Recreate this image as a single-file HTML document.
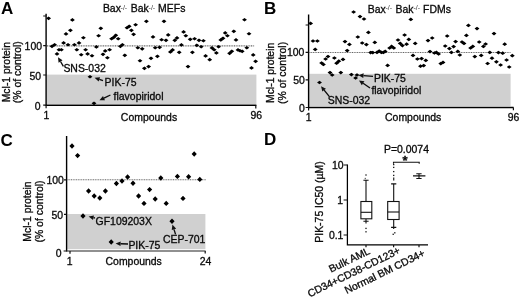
<!DOCTYPE html>
<html><head><meta charset="utf-8"><title>Figure</title>
<style>
html,body{margin:0;padding:0;background:#fff;}
body{width:520px;height:298px;overflow:hidden;}
svg{display:block;}
text{font-family:"Liberation Sans",Arial,Helvetica,sans-serif;font-size:10.45px;fill:#0a0a0a;stroke:#0a0a0a;stroke-width:0.32px;}
.pl{font-size:17px;stroke:none;font-weight:bold;fill:#000;}
.sup{font-size:7px;fill:#333;stroke:none;}
.ax{stroke:#000;stroke-width:1.4;fill:none;}
.tk{stroke:#111;stroke-width:1.2;fill:none;}
.dot{stroke:#666;stroke-width:1.05;stroke-dasharray:1 0.7;fill:none;}
.bx{stroke:#111;stroke-width:1.1;fill:#fff;}
.ln{stroke:#111;stroke-width:1.1;fill:none;}
</style></head><body>
<svg width="520" height="298" viewBox="0 0 520 298">
<rect x="0" y="0" width="520" height="298" fill="#fff"/>

<g id="panelA">
<text class="pl" x="1" y="13.5">A</text>
<text x="102.9" y="12.3">Bax</text><text class="sup" x="120.6" y="9.5">-/-</text><text x="130.7" y="12.3">Bak</text><text class="sup" x="148.6" y="9.5">-/-</text><text x="158.1" y="12.3">MEFs</text>
<rect x="46.6" y="74.6" width="209.8" height="29.4" fill="#d0d0d0"/>
<line class="dot" x1="47" y1="45.85" x2="254.5" y2="45.85"/>
<path class="ax" d="M46.1 13.8V105.2H256.4"/>
<path class="tk" d="M43.2 16H46.1M43.2 45.7H46.1M43.2 75H46.1M43.2 105.2H46.1M255.8 105.2V108.4M46.1 105.2V108.2"/>
<text x="42" y="49.5" text-anchor="end">100</text><text x="41.2" y="80" text-anchor="end">50</text><text x="40.5" y="110" text-anchor="end">0</text>
<text x="46.5" y="119.1" text-anchor="middle">1</text><text x="149" y="120.5" text-anchor="middle">Compounds</text><text x="256.2" y="119.2" text-anchor="middle">96</text>
<text transform="translate(10.4,72.2) rotate(-90)" text-anchor="middle">Mcl-1 protein</text>
<text transform="translate(21.2,72.2) rotate(-90)" text-anchor="middle">(% of control)</text>
<path fill="#000" d="M46.15 18.35L48.60 16.50L51.05 18.35L48.60 20.20ZM49.55 46.35L52.00 44.50L54.45 46.35L52.00 48.20ZM52.15 44.75L54.60 42.90L57.05 44.75L54.60 46.60ZM54.55 53.95L57.00 52.10L59.45 53.95L57.00 55.80ZM56.55 49.75L59.00 47.90L61.45 49.75L59.00 51.60ZM58.95 49.75L61.40 47.90L63.85 49.75L61.40 51.60ZM61.15 42.95L63.60 41.10L66.05 42.95L63.60 44.80ZM63.55 33.95L66.00 32.10L68.45 33.95L66.00 35.80ZM65.55 44.75L68.00 42.90L70.45 44.75L68.00 46.60ZM67.95 30.35L70.40 28.50L72.85 30.35L70.40 32.20ZM69.95 19.95L72.40 18.10L74.85 19.95L72.40 21.80ZM71.95 44.75L74.40 42.90L76.85 44.75L74.40 46.60ZM74.35 49.75L76.80 47.90L79.25 49.75L76.80 51.60ZM76.55 42.95L79.00 41.10L81.45 42.95L79.00 44.80ZM78.75 54.75L81.20 52.90L83.65 54.75L81.20 56.60ZM80.95 37.75L83.40 35.90L85.85 37.75L83.40 39.60ZM83.15 49.75L85.60 47.90L88.05 49.75L85.60 51.60ZM85.15 53.95L87.60 52.10L90.05 53.95L87.60 55.80ZM87.55 76.75L90.00 74.90L92.45 76.75L90.00 78.60ZM89.55 55.75L92.00 53.90L94.45 55.75L92.00 57.60ZM91.55 103.35L94.00 101.50L96.45 103.35L94.00 105.20ZM93.95 46.95L96.40 45.10L98.85 46.95L96.40 48.80ZM96.15 35.75L98.60 33.90L101.05 35.75L98.60 37.60ZM98.35 28.35L100.80 26.50L103.25 28.35L100.80 30.20ZM100.55 54.35L103.00 52.50L105.45 54.35L103.00 56.20ZM102.75 50.95L105.20 49.10L107.65 50.95L105.20 52.80ZM104.95 57.75L107.40 55.90L109.85 57.75L107.40 59.60ZM107.15 49.75L109.60 47.90L112.05 49.75L109.60 51.60ZM109.15 38.75L111.60 36.90L114.05 38.75L111.60 40.60ZM111.35 37.35L113.80 35.50L116.25 37.35L113.80 39.20ZM113.35 35.35L115.80 33.50L118.25 35.35L115.80 37.20ZM115.75 38.75L118.20 36.90L120.65 38.75L118.20 40.60ZM117.95 46.35L120.40 44.50L122.85 46.35L120.40 48.20ZM119.95 44.75L122.40 42.90L124.85 44.75L122.40 46.60ZM122.35 55.35L124.80 53.50L127.25 55.35L124.80 57.20ZM124.55 27.75L127.00 25.90L129.45 27.75L127.00 29.60ZM126.75 26.35L129.20 24.50L131.65 26.35L129.20 28.20ZM128.95 30.35L131.40 28.50L133.85 30.35L131.40 32.20ZM131.15 34.35L133.60 32.50L136.05 34.35L133.60 36.20ZM133.15 24.75L135.60 22.90L138.05 24.75L135.60 26.60ZM135.35 47.75L137.80 45.90L140.25 47.75L137.80 49.60ZM137.55 60.75L140.00 58.90L142.45 60.75L140.00 62.60ZM139.75 48.85L142.20 47.00L144.65 48.85L142.20 50.70ZM141.95 68.35L144.40 66.50L146.85 68.35L144.40 70.20ZM143.95 21.35L146.40 19.50L148.85 21.35L146.40 23.20ZM146.15 66.55L148.60 64.70L151.05 66.55L148.60 68.40ZM148.55 58.35L151.00 56.50L153.45 58.35L151.00 60.20ZM150.55 36.95L153.00 35.10L155.45 36.95L153.00 38.80ZM152.75 47.75L155.20 45.90L157.65 47.75L155.20 49.60ZM154.95 56.35L157.40 54.50L159.85 56.35L157.40 58.20ZM157.15 47.35L159.60 45.50L162.05 47.35L159.60 49.20ZM159.15 39.75L161.60 37.90L164.05 39.75L161.60 41.60ZM161.55 21.35L164.00 19.50L166.45 21.35L164.00 23.20ZM163.55 40.35L166.00 38.50L168.45 40.35L166.00 42.20ZM165.75 34.95L168.20 33.10L170.65 34.95L168.20 36.80ZM167.95 51.95L170.40 50.10L172.85 51.95L170.40 53.80ZM170.15 49.95L172.60 48.10L175.05 49.95L172.60 51.80ZM172.35 40.35L174.80 38.50L177.25 40.35L174.80 42.20ZM174.55 37.95L177.00 36.10L179.45 37.95L177.00 39.80ZM176.75 52.35L179.20 50.50L181.65 52.35L179.20 54.20ZM178.95 44.95L181.40 43.10L183.85 44.95L181.40 46.80ZM181.15 31.95L183.60 30.10L186.05 31.95L183.60 33.80ZM183.35 35.75L185.80 33.90L188.25 35.75L185.80 37.60ZM185.55 66.55L188.00 64.70L190.45 66.55L188.00 68.40ZM187.75 39.35L190.20 37.50L192.65 39.35L190.20 41.20ZM189.95 52.35L192.40 50.50L194.85 52.35L192.40 54.20ZM192.15 38.75L194.60 36.90L197.05 38.75L194.60 40.60ZM194.35 45.35L196.80 43.50L199.25 45.35L196.80 47.20ZM196.55 40.35L199.00 38.50L201.45 40.35L199.00 42.20ZM198.75 46.75L201.20 44.90L203.65 46.75L201.20 48.60ZM200.95 40.75L203.40 38.90L205.85 40.75L203.40 42.60ZM203.15 55.95L205.60 54.10L208.05 55.95L205.60 57.80ZM207.25 59.65L209.70 57.80L212.15 59.65L209.70 61.50ZM209.55 47.95L212.00 46.10L214.45 47.95L212.00 49.80ZM211.75 49.75L214.20 47.90L216.65 49.75L214.20 51.60ZM213.95 52.95L216.40 51.10L218.85 52.95L216.40 54.80ZM216.15 46.75L218.60 44.90L221.05 46.75L218.60 48.60ZM218.35 39.95L220.80 38.10L223.25 39.95L220.80 41.80ZM220.55 38.35L223.00 36.50L225.45 38.35L223.00 40.20ZM222.75 32.95L225.20 31.10L227.65 32.95L225.20 34.80ZM224.95 35.75L227.40 33.90L229.85 35.75L227.40 37.60ZM227.15 53.35L229.60 51.50L232.05 53.35L229.60 55.20ZM229.35 51.35L231.80 49.50L234.25 51.35L231.80 53.20ZM231.35 31.35L233.80 29.50L236.25 31.35L233.80 33.20ZM233.55 39.95L236.00 38.10L238.45 39.95L236.00 41.80ZM235.55 49.95L238.00 48.10L240.45 49.95L238.00 51.80ZM237.55 50.75L240.00 48.90L242.45 50.75L240.00 52.60ZM239.75 51.35L242.20 49.50L244.65 51.35L242.20 53.20ZM242.05 19.75L244.50 17.90L246.95 19.75L244.50 21.60ZM244.35 47.75L246.80 45.90L249.25 47.75L246.80 49.60ZM246.55 33.75L249.00 31.90L251.45 33.75L249.00 35.60ZM249.05 67.95L251.50 66.10L253.95 67.95L251.50 69.80ZM250.75 54.95L253.20 53.10L255.65 54.95L253.20 56.80ZM253.15 61.35L255.60 59.50L258.05 61.35L255.60 63.20Z"/>
<text x="63.4" y="72.2">SNS-032</text><text x="104.6" y="86.1">PIK-75</text><text x="113.6" y="100">flavopiridol</text>
<line x1="63.40" y1="66.40" x2="60.53" y2="61.51" stroke="#0a0a0a" stroke-width="1.35"/><path d="M58.00 57.20L62.51 60.35L58.55 62.68Z" fill="#111"/><line x1="103.00" y1="80.60" x2="99.34" y2="79.38" stroke="#0a0a0a" stroke-width="1.35"/><path d="M94.60 77.80L100.07 77.20L98.62 81.56Z" fill="#111"/><line x1="110.40" y1="95.00" x2="104.00" y2="98.11" stroke="#0a0a0a" stroke-width="1.35"/><path d="M99.50 100.30L102.99 96.05L105.00 100.18Z" fill="#111"/>
</g>
<g id="panelB">
<text class="pl" x="264.1" y="13.6">B</text>
<text x="367.8" y="12.5">Bax</text><text class="sup" x="385.5" y="9.7">-/-</text><text x="395.5" y="12.5">Bak</text><text class="sup" x="413.4" y="9.7">-/-</text><text x="423.1" y="12.5">FDMs</text>
<rect x="309" y="73.8" width="201.6" height="32.4" fill="#d0d0d0"/>
<line class="dot" x1="309.5" y1="52.4" x2="510.6" y2="52.4"/>
<path class="ax" d="M308.6 14.4V107.5H513.6"/>
<path class="tk" d="M305.6 25H308.6M305.6 52.4H308.6M305.6 79.8H308.6M305.6 107.5H308.6M513.4 107.5V110.2M308.6 107.5V110.6"/>
<text x="304.4" y="56.2" text-anchor="end">100</text><text x="304.9" y="84.4" text-anchor="end">50</text><text x="304.8" y="111.9" text-anchor="end">0</text>
<text x="308.7" y="121.1" text-anchor="middle">1</text><text x="413.2" y="120.9" text-anchor="middle">Compounds</text><text x="513.5" y="120.9" text-anchor="middle">96</text>
<text transform="translate(274,72.9) rotate(-90)" text-anchor="middle">Mcl-1 protein</text>
<text transform="translate(286.1,72.9) rotate(-90)" text-anchor="middle">(% of control)</text>
<path fill="#000" d="M308.15 23.40L310.60 21.55L313.05 23.40L310.60 25.25ZM310.55 41.00L313.00 39.15L315.45 41.00L313.00 42.85ZM312.75 49.40L315.20 47.55L317.65 49.40L315.20 51.25ZM314.95 41.00L317.40 39.15L319.85 41.00L317.40 42.85ZM317.05 82.50L319.50 80.65L321.95 82.50L319.50 84.35ZM319.15 63.00L321.60 61.15L324.05 63.00L321.60 64.85ZM320.95 64.40L323.40 62.55L325.85 64.40L323.40 66.25ZM323.15 59.00L325.60 57.15L328.05 59.00L325.60 60.85ZM325.55 56.50L328.00 54.65L330.45 56.50L328.00 58.35ZM327.55 72.60L330.00 70.75L332.45 72.60L330.00 74.45ZM329.75 75.00L332.20 73.15L334.65 75.00L332.20 76.85ZM331.95 58.00L334.40 56.15L336.85 58.00L334.40 59.85ZM334.15 63.20L336.60 61.35L339.05 63.20L336.60 65.05ZM336.35 61.20L338.80 59.35L341.25 61.20L338.80 63.05ZM338.35 72.60L340.80 70.75L343.25 72.60L340.80 74.45ZM340.55 59.40L343.00 57.55L345.45 59.40L343.00 61.25ZM342.55 41.60L345.00 39.75L347.45 41.60L345.00 43.45ZM344.75 50.60L347.20 48.75L349.65 50.60L347.20 52.45ZM346.95 44.40L349.40 42.55L351.85 44.40L349.40 46.25ZM348.95 74.60L351.40 72.75L353.85 74.60L351.40 76.45ZM351.15 12.00L353.60 10.15L356.05 12.00L353.60 13.85ZM353.15 78.00L355.60 76.15L358.05 78.00L355.60 79.85ZM354.55 75.00L357.00 73.15L359.45 75.00L357.00 76.85ZM355.35 37.00L357.80 35.15L360.25 37.00L357.80 38.85ZM357.55 16.60L360.00 14.75L362.45 16.60L360.00 18.45ZM359.75 43.00L362.20 41.15L364.65 43.00L362.20 44.85ZM361.55 19.00L364.00 17.15L366.45 19.00L364.00 20.85ZM363.95 44.60L366.40 42.75L368.85 44.60L366.40 46.45ZM365.95 32.40L368.40 30.55L370.85 32.40L368.40 34.25ZM368.15 52.60L370.60 50.75L373.05 52.60L370.60 54.45ZM370.35 52.60L372.80 50.75L375.25 52.60L372.80 54.45ZM372.35 42.40L374.80 40.55L377.25 42.40L374.80 44.25ZM374.55 52.40L377.00 50.55L379.45 52.40L377.00 54.25ZM376.75 51.00L379.20 49.15L381.65 51.00L379.20 52.85ZM378.95 52.40L381.40 50.55L383.85 52.40L381.40 54.25ZM380.95 52.40L383.40 50.55L385.85 52.40L383.40 54.25ZM382.75 51.40L385.20 49.55L387.65 51.40L385.20 53.25ZM385.15 65.40L387.60 63.55L390.05 65.40L387.60 67.25ZM387.15 48.00L389.60 46.15L392.05 48.00L389.60 49.85ZM389.15 46.40L391.60 44.55L394.05 46.40L391.60 48.25ZM391.35 48.00L393.80 46.15L396.25 48.00L393.80 49.85ZM395.55 40.00L398.00 38.15L400.45 40.00L398.00 41.85ZM397.75 43.40L400.20 41.55L402.65 43.40L400.20 45.25ZM399.95 45.60L402.40 43.75L404.85 45.60L402.40 47.45ZM402.15 35.00L404.60 33.15L407.05 35.00L404.60 36.85ZM404.15 44.20L406.60 42.35L409.05 44.20L406.60 46.05ZM406.35 39.40L408.80 37.55L411.25 39.40L408.80 41.25ZM408.35 19.40L410.80 17.55L413.25 19.40L410.80 21.25ZM410.55 55.40L413.00 53.55L415.45 55.40L413.00 57.25ZM412.75 43.40L415.20 41.55L417.65 43.40L415.20 45.25ZM414.95 59.00L417.40 57.15L419.85 59.00L417.40 60.85ZM418.05 66.20L420.50 64.35L422.95 66.20L420.50 68.05ZM419.15 58.60L421.60 56.75L424.05 58.60L421.60 60.45ZM421.25 65.60L423.70 63.75L426.15 65.60L423.70 67.45ZM423.35 60.40L425.80 58.55L428.25 60.40L425.80 62.25ZM425.55 40.60L428.00 38.75L430.45 40.60L428.00 42.45ZM427.55 51.60L430.00 49.75L432.45 51.60L430.00 53.45ZM429.75 38.00L432.20 36.15L434.65 38.00L432.20 39.85ZM431.95 53.00L434.40 51.15L436.85 53.00L434.40 54.85ZM433.95 52.40L436.40 50.55L438.85 52.40L436.40 54.25ZM436.15 54.00L438.60 52.15L441.05 54.00L438.60 55.85ZM438.35 63.60L440.80 61.75L443.25 63.60L440.80 65.45ZM440.55 62.40L443.00 60.55L445.45 62.40L443.00 64.25ZM442.75 46.00L445.20 44.15L447.65 46.00L445.20 47.85ZM444.75 36.00L447.20 34.15L449.65 36.00L447.20 37.85ZM446.95 48.60L449.40 46.75L451.85 48.60L449.40 50.45ZM448.95 52.40L451.40 50.55L453.85 52.40L451.40 54.25ZM451.15 46.60L453.60 44.75L456.05 46.60L453.60 48.45ZM453.15 41.60L455.60 39.75L458.05 41.60L455.60 43.45ZM455.35 51.40L457.80 49.55L460.25 51.40L457.80 53.25ZM457.35 55.00L459.80 53.15L462.25 55.00L459.80 56.85ZM459.55 42.00L462.00 40.15L464.45 42.00L462.00 43.85ZM461.55 43.40L464.00 41.55L466.45 43.40L464.00 45.25ZM463.95 35.40L466.40 33.55L468.85 35.40L466.40 37.25ZM465.95 25.40L468.40 23.55L470.85 25.40L468.40 27.25ZM468.15 48.00L470.60 46.15L473.05 48.00L470.60 49.85ZM470.35 46.40L472.80 44.55L475.25 46.40L472.80 48.25ZM472.35 56.60L474.80 54.75L477.25 56.60L474.80 58.45ZM474.55 28.60L477.00 26.75L479.45 28.60L477.00 30.45ZM476.75 42.00L479.20 40.15L481.65 42.00L479.20 43.85ZM478.75 55.40L481.20 53.55L483.65 55.40L481.20 57.25ZM480.95 46.40L483.40 44.55L485.85 46.40L483.40 48.25ZM483.15 44.00L485.60 42.15L488.05 44.00L485.60 45.85ZM485.15 63.50L487.60 61.65L490.05 63.50L487.60 65.35ZM487.35 52.40L489.80 50.55L492.25 52.40L489.80 54.25ZM489.55 58.20L492.00 56.35L494.45 58.20L492.00 60.05ZM491.55 33.60L494.00 31.75L496.45 33.60L494.00 35.45ZM493.95 61.80L496.40 59.95L498.85 61.80L496.40 63.65ZM495.95 52.60L498.40 50.75L500.85 52.60L498.40 54.45ZM498.15 65.00L500.60 63.15L503.05 65.00L500.60 66.85ZM500.25 53.20L502.70 51.35L505.15 53.20L502.70 55.05ZM502.25 44.20L504.70 42.35L507.15 44.20L504.70 46.05ZM504.15 60.00L506.60 58.15L509.05 60.00L506.60 61.85ZM506.75 67.00L509.20 65.15L511.65 67.00L509.20 68.85ZM509.85 55.70L512.30 53.85L514.75 55.70L512.30 57.55Z"/>
<text x="374" y="82.4">PIK-75</text><text x="371.4" y="93.9">flavopiridol</text><text x="327.8" y="104.2">SNS-032</text>
<line x1="373.00" y1="76.40" x2="363.48" y2="75.61" stroke="#0a0a0a" stroke-width="1.35"/><path d="M358.50 75.20L363.67 73.32L363.29 77.90Z" fill="#111"/><line x1="370.00" y1="88.00" x2="363.11" y2="83.24" stroke="#0a0a0a" stroke-width="1.35"/><path d="M359.00 80.40L364.42 81.35L361.81 85.13Z" fill="#111"/><line x1="329.40" y1="96.60" x2="324.14" y2="90.09" stroke="#0a0a0a" stroke-width="1.35"/><path d="M321.00 86.20L325.93 88.64L322.35 91.53Z" fill="#111"/>
</g>
<g id="panelC">
<text class="pl" x="0.5" y="145.9">C</text>
<rect x="67.2" y="214" width="138.2" height="35.2" fill="#d0d0d0"/>
<line class="dot" x1="67.6" y1="179.8" x2="206" y2="179.8"/>
<path class="ax" d="M66.6 136V251.4"/><path d="M66 251H205.6" stroke="#222" stroke-width="1.15" fill="none"/>
<path class="tk" d="M64 179.8H66.6M64 214.4H66.6M63.6 251H66.6M205.2 251V253.6M70 251V253.8"/>
<text x="63.8" y="183.5" text-anchor="end">100</text><text x="63.1" y="218.9" text-anchor="end">50</text><text x="61.6" y="257" text-anchor="end">0</text>
<text x="69.6" y="264.7" text-anchor="middle">1</text><text x="133.7" y="264.8" text-anchor="middle">Compounds</text><text x="205.6" y="264.6" text-anchor="middle">24</text>
<text transform="translate(31,211.5) rotate(-90)" text-anchor="middle">Mcl-1 protein</text>
<text transform="translate(42.5,211.5) rotate(-90)" text-anchor="middle">(% of control)</text>
<path fill="#000" d="M69.40 146.00L72.00 143.30L74.60 146.00L72.00 148.70ZM75.00 155.60L77.60 152.90L80.20 155.60L77.60 158.30ZM80.40 216.00L83.00 213.30L85.60 216.00L83.00 218.70ZM86.00 191.00L88.60 188.30L91.20 191.00L88.60 193.70ZM91.60 196.00L94.20 193.30L96.80 196.00L94.20 198.70ZM97.20 198.00L99.80 195.30L102.40 198.00L99.80 200.70ZM102.80 191.00L105.40 188.30L108.00 191.00L105.40 193.70ZM108.60 242.00L111.20 239.30L113.80 242.00L111.20 244.70ZM113.80 183.50L116.40 180.80L119.00 183.50L116.40 186.20ZM119.40 181.00L122.00 178.30L124.60 181.00L122.00 183.70ZM125.00 177.00L127.60 174.30L130.20 177.00L127.60 179.70ZM130.40 183.20L133.00 180.50L135.60 183.20L133.00 185.90ZM136.00 196.00L138.60 193.30L141.20 196.00L138.60 198.70ZM141.40 203.40L144.00 200.70L146.60 203.40L144.00 206.10ZM147.00 189.60L149.60 186.90L152.20 189.60L149.60 192.30ZM152.60 199.00L155.20 196.30L157.80 199.00L155.20 201.70ZM158.20 178.00L160.80 175.30L163.40 178.00L160.80 180.70ZM163.60 203.40L166.20 200.70L168.80 203.40L166.20 206.10ZM169.40 221.20L172.00 218.50L174.60 221.20L172.00 223.90ZM174.80 176.40L177.40 173.70L180.00 176.40L177.40 179.10ZM180.40 198.40L183.00 195.70L185.60 198.40L183.00 201.10ZM186.00 176.80L188.60 174.10L191.20 176.80L188.60 179.50ZM191.60 154.00L194.20 151.30L196.80 154.00L194.20 156.70ZM197.20 179.40L199.80 176.70L202.40 179.40L199.80 182.10Z"/>
<text x="95.6" y="224.9">GF109203X</text><text x="128.4" y="248.6">PIK-75</text><text x="163" y="243.4">CEP-701</text>
<line x1="95.00" y1="218.00" x2="93.48" y2="217.67" stroke="#0a0a0a" stroke-width="1.35"/><path d="M88.60 216.60L93.98 215.42L92.99 219.92Z" fill="#111"/><line x1="128.00" y1="244.00" x2="120.60" y2="243.76" stroke="#0a0a0a" stroke-width="1.35"/><path d="M115.60 243.60L120.67 241.46L120.52 246.06Z" fill="#111"/><line x1="175.60" y1="234.40" x2="173.95" y2="229.35" stroke="#0a0a0a" stroke-width="1.35"/><path d="M172.40 224.60L176.14 228.64L171.77 230.07Z" fill="#111"/>
</g>
<g id="panelD">
<text class="pl" x="263.9" y="145.4">D</text>
<text x="384" y="152.7">P=0.0074</text><text x="405" y="164.6" text-anchor="middle" style="font-size:13px;font-weight:bold">*</text>
<path class="ln" d="M393.5 163.7V162.3H419.2V163.7"/>
<path class="ax" style="stroke-width:1.25" d="M347.4 164.6V244.9H428"/>
<path class="tk" d="M343.6 165H347.4M343.6 200H347.4M343.6 235H347.4M366 244.9V247.2M393.6 244.9V247.2M419 244.9V247.2"/>
<text x="343.6" y="168.6" text-anchor="end">10</text><text x="343" y="203.8" text-anchor="end">1</text><text x="343.4" y="238.8" text-anchor="end">0.1</text>
<text transform="translate(323.2,202) rotate(-90)" text-anchor="middle">PIK-75 IC50 (µM)</text>
<path class="ln" d="M366 180.2V201.5M366 218.8V223.4M363.4 180.2H368.6M363.4 221.2H368.6"/>
<rect class="bx" x="360.9" y="201.5" width="10.9" height="17.3"/><path class="ln" d="M360.9 212.3H371.8"/>
<rect x="365.35" y="174.35" width="1.30" height="1.30" fill="#111"/><rect x="364.65" y="177.85" width="1.30" height="1.30" fill="#666"/><rect x="365.35" y="227.75" width="1.30" height="1.30" fill="#111"/><rect x="365.35" y="231.15" width="1.30" height="1.30" fill="#111"/>
<path class="ln" d="M393.7 183.9V201.5M393.7 219.5V229M391.1 183.9H396.3M391.1 227.4H396.3"/>
<rect class="bx" x="387.7" y="201.5" width="11.4" height="18"/><path class="ln" d="M387.7 212H399.1"/>
<rect x="393.05" y="163.95" width="1.30" height="1.30" fill="#111"/><rect x="393.05" y="166.75" width="1.30" height="1.30" fill="#111"/><rect x="393.05" y="170.95" width="1.30" height="1.30" fill="#111"/><rect x="393.05" y="174.75" width="1.30" height="1.30" fill="#111"/><rect x="393.05" y="177.55" width="1.30" height="1.30" fill="#111"/><rect x="393.05" y="179.15" width="1.30" height="1.30" fill="#111"/><rect x="394.15" y="232.15" width="1.30" height="1.30" fill="#111"/><rect x="392.55" y="233.65" width="1.30" height="1.30" fill="#111"/>
<path class="ln" d="M413 175.9H425.4M419 173.7V178.5M416.3 173.7H421.6M416.3 178.5H421.6"/>
<text transform="translate(370.7,253.4) rotate(-26)" text-anchor="end">Bulk AML</text>
<text transform="translate(401,252.9) rotate(-26)" text-anchor="end">CD34+CD38-CD123+</text>
<text transform="translate(425.8,255.6) rotate(-26)" text-anchor="end">Normal BM CD34+</text>
</g>
</svg></body></html>
